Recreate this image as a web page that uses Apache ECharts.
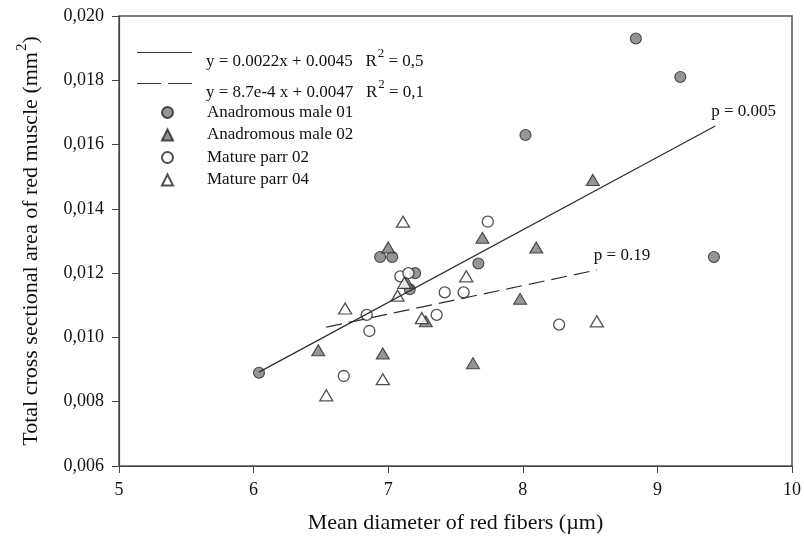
<!DOCTYPE html>
<html>
<head>
<meta charset="utf-8">
<script src="https://cdn.jsdelivr.net/npm/echarts@6/dist/echarts.min.js"></script>
<style>
html,body{margin:0;padding:0;background:#fff;}
#c{width:804px;height:548px;}
</style>
</head>
<body>
<div id="c"></div>
<script>
// ---- data ----
const anadromousMale01 = [[6.04,0.0089],[6.94,0.0125],[7.03,0.0125],[7.20,0.0120],[7.16,0.0115],[7.67,0.0123],[8.02,0.0163],[8.84,0.0193],[9.17,0.0181],[9.42,0.0125]];
const anadromousMale02 = [[6.48,0.0096],[6.96,0.0095],[7.00,0.0128],[7.14,0.0117],[7.28,0.0105],[7.63,0.0092],[7.70,0.0131],[7.98,0.0112],[8.10,0.0128],[8.52,0.0149]];
const matureParr02 = [[6.67,0.0088],[6.84,0.0107],[6.86,0.0102],[7.09,0.0119],[7.15,0.0120],[7.36,0.0107],[7.42,0.0114],[7.56,0.0114],[7.74,0.0136],[8.27,0.0104]];
const matureParr04 = [[6.54,0.0082],[6.68,0.0109],[6.96,0.0087],[7.07,0.0113],[7.11,0.0136],[7.12,0.0117],[7.25,0.0106],[7.58,0.0119],[8.55,0.0105]];
const fitAll = [[6.04,0.00892],[9.43,0.01658]];
const fitParr = [[6.54,0.01032],[8.55,0.0121]];
const fitNames = ['y = 0.0022x + 0.0045   R² = 0,5', 'y = 8.7e-4 x + 0.0047   R² = 0,1'];
const fitP = ['p = 0.005', 'p = 0.19'];
const groupNames = ['Anadromous male 01','Anadromous male 02','Mature parr 02','Mature parr 04'];
const xTicks = [5,6,7,8,9,10];
const yTicks = [0.006,0.008,0.010,0.012,0.014,0.016,0.018,0.020];

const FONT = 'Liberation Serif';
const INK = '#262626';
const GRAY = '#7a7a7a';

function richName(n){
  const parts = n.split('R²');
  if (parts.length === 1) return '{t|' + n + '}';
  return '{a|' + parts[0] + 'R}{s|2}{a|' + parts[1] + '}';
}

const chart = echarts.init(document.getElementById('c'), null, {renderer:'canvas'});
const lineRich = {
  a:{fontFamily:FONT,fontSize:17,color:'#111',verticalAlign:'top',padding:[18,0,0,0]},
  s:{fontFamily:FONT,fontSize:13,color:'#111',verticalAlign:'top',padding:[12,0,0,1]}
};
const SOLID_ICON = 'path://M0,0H55V1H0Z';
const DASH_ICON = 'path://M0,0H24V1H0Z M31,0H55V1H31Z';
function lineLegend(name, top, icon){
  return {
    show:true, orient:'vertical', left:137, top:top, padding:0,
    data:[{name:name, icon:icon}], itemWidth:55, itemHeight:1.3, itemGap:0, selectedMode:false,
    itemStyle:{color:'#333', borderWidth:0},
    formatter:function(n){ return richName(n); },
    textStyle:{fontFamily:FONT,fontSize:17,color:'#111',padding:[0,0,0,9],rich:lineRich}
  };
}
const option = {
  animation:false,
  backgroundColor:'#fff',
  grid:{left:119,right:10,top:16,bottom:82,show:true,borderColor:'#555',borderWidth:1.5,backgroundColor:'transparent'},
  legend:[
    lineLegend(fitNames[0], 47, SOLID_ICON),
    lineLegend(fitNames[1], 78, DASH_ICON),
    {
      show:true, orient:'vertical', left:161, top:104, padding:0,
      data:groupNames, itemWidth:11, itemHeight:11, itemGap:5.5, selectedMode:false,
      formatter:function(n){ return '{t|' + n + '}'; },
      textStyle:{fontFamily:FONT,fontSize:17,color:'#111',
        rich:{t:{fontFamily:FONT,fontSize:17,color:'#111',lineHeight:18,padding:[0,0,0,29]}}}
    }
  ],
  xAxis:{
    type:'value', min:xTicks[0], max:xTicks[xTicks.length-1], interval:1,
    name:'Mean diameter of red fibers (µm)', nameLocation:'middle', nameGap:46,
    nameTextStyle:{fontFamily:FONT,fontSize:22,color:'#111'},
    axisLine:{show:true,onZero:false,lineStyle:{color:'#444',width:1.2}},
    axisTick:{show:true,inside:false,length:7,lineStyle:{color:'#444'}},
    axisLabel:{fontFamily:FONT,fontSize:18,color:'#111',margin:15},
    splitLine:{show:false}
  },
  yAxis:{
    type:'value', min:yTicks[0], max:yTicks[yTicks.length-1], interval:0.002,
    name:'{a|Total cross sectional area of red muscle (mm}{s|2}{a|)}', nameLocation:'middle', nameGap:77,
    nameTextStyle:{fontFamily:FONT,fontSize:22,color:'#111',
      rich:{a:{fontFamily:FONT,fontSize:22,color:'#111',verticalAlign:'top',padding:[5,0,0,0]},
            s:{fontFamily:FONT,fontSize:15,color:'#111',verticalAlign:'top',padding:[0,0,0,1]}}},
    axisLine:{show:true,onZero:false,lineStyle:{color:'#444',width:1.2}},
    axisTick:{show:true,inside:false,length:7,lineStyle:{color:'#444'}},
    axisLabel:{fontFamily:FONT,fontSize:18,color:'#111',margin:15,
      formatter:function(v){ return v.toFixed(3).replace('.',','); }},
    splitLine:{show:false}
  },
  series:[
    {name:groupNames[0],type:'scatter',data:anadromousMale01,symbol:'circle',symbolSize:11,
      itemStyle:{color:GRAY,borderColor:INK,borderWidth:1.1}},
    {name:groupNames[1],type:'scatter',data:anadromousMale02,symbol:'triangle',symbolSize:[13,11],
      itemStyle:{color:GRAY,borderColor:INK,borderWidth:1.1}},
    {name:groupNames[2],type:'scatter',data:matureParr02,symbol:'circle',symbolSize:11,
      itemStyle:{color:'#fff',borderColor:INK,borderWidth:1.3}},
    {name:groupNames[3],type:'scatter',data:matureParr04,symbol:'triangle',symbolSize:[13,11],
      itemStyle:{color:'#fff',borderColor:INK,borderWidth:1.3}},
    {name:fitNames[0],type:'line',data:fitAll,symbol:'none',showSymbol:false,
      lineStyle:{color:'#2e2e2e',width:1.2,type:'solid'},itemStyle:{color:'#333'},
      endLabel:{show:true,formatter:fitP[0],fontFamily:FONT,fontSize:17,color:'#111',offset:[-12,-14]}},
    {name:fitNames[1],type:'line',data:fitParr,symbol:'none',showSymbol:false,
      lineStyle:{color:'#2e2e2e',width:1.2,type:[16,7]},itemStyle:{color:'#333'},
      endLabel:{show:true,formatter:fitP[1],fontFamily:FONT,fontSize:17,color:'#111',offset:[-11,-14]}}
  ]
};
chart.setOption(option);
</script>
</body>
</html>
